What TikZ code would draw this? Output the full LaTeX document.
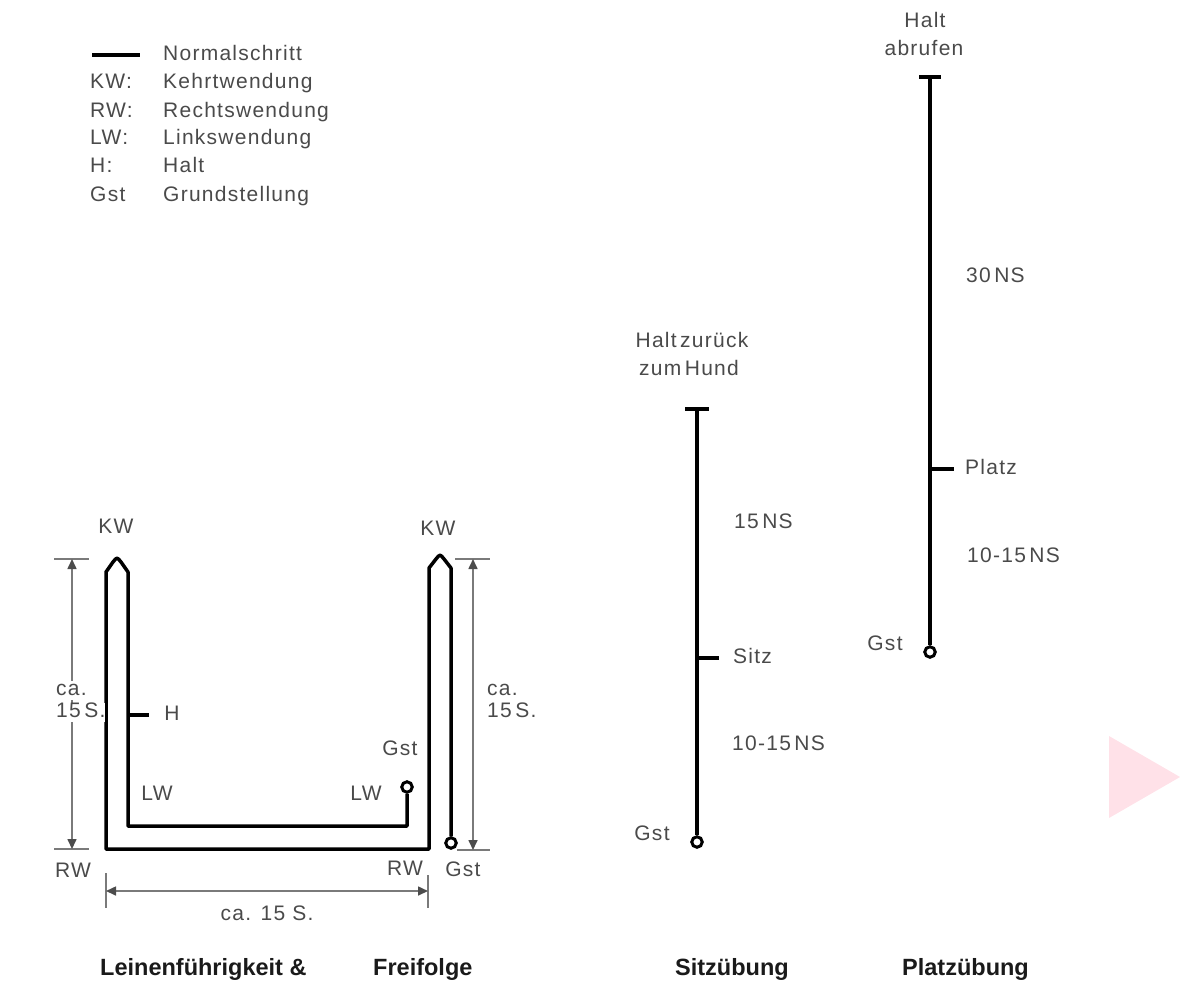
\documentclass[tikz,border=0pt]{standalone}
\usepackage{fontspec}
\setmainfont{Liberation Sans}
\newfontfamily\lblfont[LetterSpace=6]{Liberation Sans}
\usetikzlibrary{arrows.meta}
\definecolor{txtgray}{HTML}{4A4A4A}
\definecolor{dimgray}{HTML}{7A7A7A}
\definecolor{pinkish}{HTML}{FFE1E8}
\definecolor{titleblack}{HTML}{1A1A1A}
\begin{document}
\begin{tikzpicture}[x=1pt,y=-1pt,
  lab/.style={text=txtgray,font=\lblfont\fontsize{21}{24}\selectfont,inner sep=0pt,text height=15pt,text depth=4pt},
  ttl/.style={text=titleblack,font=\bfseries\fontsize{23.5}{26}\selectfont,inner sep=0pt,anchor=west,text height=17pt,text depth=5pt},
  walk/.style={line width=3.5pt,black,line join=round},
  dimline/.style={line width=1.6pt,dimgray},
  dimtips/.style={{Triangle[length=10pt,width=9pt,color=black!70]}-{Triangle[length=10pt,width=9pt,color=black!70]}},
  endc/.style={circle,draw=black,line width=3pt,minimum size=10.5pt,inner sep=0pt,fill=white}
]
\useasboundingbox (0,0) rectangle (1180,985);

% ---------------- legend ----------------
\coordinate (lgA) at (92,55);
\coordinate (lgB) at (140,55);
\draw[walk] (lgA) -- (lgB);
\node[lab,anchor=west] (lgN) at (163,55) {Normalschritt};
\node[lab,anchor=west] (lgKW) at (90,83) {KW:};
\node[lab,anchor=west] (lgKWt) at (163,83) {Kehrtwendung};
\node[lab,anchor=west] (lgRW) at (90,112) {RW:};
\node[lab,anchor=west] (lgRWt) at (163,112) {Rechtswendung};
\node[lab,anchor=west] (lgLW) at (90,139) {LW:};
\node[lab,anchor=west] (lgLWt) at (163,139) {Linkswendung};
\node[lab,anchor=west] (lgH) at (90,167) {H:};
\node[lab,anchor=west] (lgHt) at (163,167) {Halt};
\node[lab,anchor=west] (lgG) at (90,196) {Gst};
\node[lab,anchor=west] (lgGt) at (163,196) {Grundstellung};

% ---------------- Leinenfuehrigkeit path ----------------
\node[endc] (gstA) at (407,787) {};
\node[endc] (gstB) at (451,843) {};
\coordinate (rwR) at (429,849);
\coordinate (rwL) at (106,849);
\coordinate (lwL) at (128,826);
\coordinate (lwR) at (407,826);
\draw[walk] (gstB.north) -- (451,568) -- (444,559) .. controls (440,554) .. (436,559) -- (429,568) -- (rwR) -- (rwL)
  -- (106,572) -- (113,562) .. controls (117,557) .. (121,562) -- (128,572) -- (lwL) -- (lwR) -- (gstA.south);
\coordinate (hA) at (128,715);
\coordinate (hB) at (149,715);
\draw[walk] (hA) -- (hB);

\node[lab] (kwL) at (116,528) {KW};
\node[lab] (kwR) at (438,530) {KW};
\node[lab] (hL) at (172,715) {H};
\node[lab] (lwLl) at (157,795) {LW};
\node[lab] (lwRl) at (366,795) {LW};
\node[lab] (gstAl) at (400,750) {Gst};
\node[lab] (rwLl) at (73,872) {RW};
\node[lab] (rwRl) at (405,870) {RW};
\node[lab] (gstBl) at (463,871) {Gst};

% dimensions
\coordinate (dLt) at (72,559);
\coordinate (dLb) at (72,849);
\draw[dimline] (54,559) -- (89,559);
\draw[dimline] (54,849) -- (89,849);
\draw[dimline,dimtips] (dLt) -- (dLb);
\node[lab,anchor=west,fill=white] (caL1) at (56,690) {ca.};
\node[lab,anchor=west,fill=white] (caL2) at (56,712) {15\,S.};

\coordinate (dRt) at (473,559);
\coordinate (dRb) at (473,850);
\draw[dimline] (455,559) -- (490,559);
\draw[dimline] (457,850) -- (490,850);
\draw[dimline,dimtips] (dRt) -- (dRb);
\node[lab,anchor=west] (caR1) at (487,690) {ca.};
\node[lab,anchor=west] (caR2) at (487,712) {15\,S.};

\coordinate (dBl) at (106,891);
\coordinate (dBr) at (428,891);
\draw[dimline] (106,873) -- (106,908);
\draw[dimline] (428,875) -- (428,908);
\draw[dimline,dimtips] (dBl) -- (dBr);
\node[lab] (caB) at (267,915) {ca. 15 S.};

% ---------------- Sitzuebung ----------------
\coordinate (sTop) at (697,409);
\node[endc] (sGst) at (697,842) {};
\draw[walk] (sTop) -- (sGst.north);
\draw[walk] (685,409) -- (709,409);
\coordinate (sS) at (697,658);
\coordinate (sSe) at (719,658);
\draw[walk] (sS) -- (sSe);
\node[lab] (sH1) at (692,342) {Halt\,zurück};
\node[lab] (sH2) at (689,370) {zum\,Hund};
\node[lab,anchor=west] (s15) at (734,523) {15\,NS};
\node[lab,anchor=west] (sSitz) at (733,658) {Sitz};
\node[lab,anchor=west] (s1015) at (732,745) {10-15\,NS};
\node[lab] (sGstl) at (652,835) {Gst};

% ---------------- Platzuebung ----------------
\coordinate (pTop) at (930,77);
\node[endc] (pGst) at (930,652) {};
\draw[walk] (pTop) -- (pGst.north);
\draw[walk] (919,77) -- (941,77);
\coordinate (pP) at (930,469);
\coordinate (pPe) at (954,469);
\draw[walk] (pP) -- (pPe);
\node[lab] (pH1) at (925,22) {Halt};
\node[lab] (pH2) at (924,50) {abrufen};
\node[lab,anchor=west] (p30) at (966,277) {30\,NS};
\node[lab,anchor=west] (pPl) at (965,469) {Platz};
\node[lab,anchor=west] (p1015) at (967,557) {10-15\,NS};
\node[lab] (pGstl) at (885,645) {Gst};

% ---------------- titles ----------------
\node[ttl] (t1) at (100,969) {Leinenführigkeit \&};
\node[ttl] (t2) at (373,969) {Freifolge};
\node[ttl] (t3) at (675,969) {Sitzübung};
\node[ttl] (t4) at (902,969) {Platzübung};

% ---------------- pink triangle ----------------
\fill[pinkish] (1109,736) -- (1180,777) -- (1109,818) -- cycle;
\end{tikzpicture}
\end{document}
